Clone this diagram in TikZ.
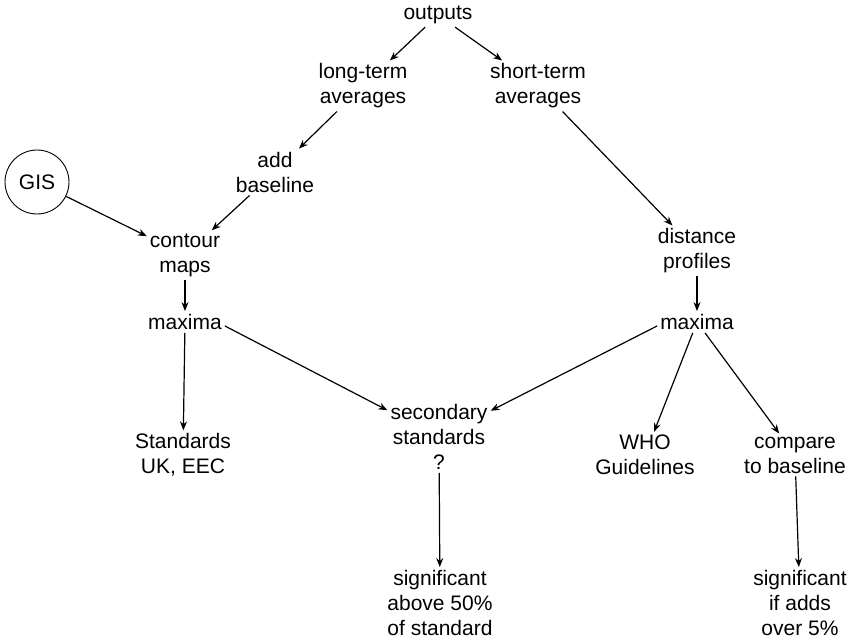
\documentclass[tikz,border=0pt]{standalone}
\usepackage{fontspec}
\setmainfont{Liberation Sans}
\usetikzlibrary{arrows.meta}
\begin{document}
\begin{tikzpicture}[x=1pt,y=-1pt,
  lbl/.style={align=center,inner sep=3pt,font=\fontsize{21}{25}\selectfont},
  flow/.style={-{Stealth[length=9pt,width=7pt]},line width=1.2pt},
  ring/.style={circle,draw,line width=0.9pt,minimum size=64pt,inner sep=0pt,font=\fontsize{21}{25}\selectfont}]
\useasboundingbox (0,0) rectangle (852,642);

\node[lbl] (out) at (438,15) {outputs};
\node[lbl] (lta) at (363,86) {long-term\\averages};
\node[lbl] (sta) at (538,86) {short-term\\averages};
\node[lbl] (addb) at (275,172) {add\\baseline};
\node[ring] (gis) at (37,182) {GIS};
\node[lbl] (cont) at (185,255) {contour\\maps};
\node[lbl] (dist) at (697,251) {distance\\profiles};
\node[lbl] (maxl) at (185,322) {maxima};
\node[lbl] (maxr) at (697,322) {maxima};
\node[lbl] (sec) at (439,437) {secondary\\standards\\?};
\node[lbl] (std) at (183,455) {Standards\\UK, EEC};
\node[lbl] (who) at (645,455) {WHO\\Guidelines};
\node[lbl] (cmp) at (795,455) {compare\\to baseline};
\node[lbl] (sig1) at (440,603) {significant\\above 50\%\\of standard};
\node[lbl] (sig2) at (800,603) {significant\\if adds\\over 5\%};

\draw[flow] (out) -- (lta);
\draw[flow] (out) -- (sta);
\draw[flow] (lta) -- (addb);
\draw[flow] (sta) -- (dist);
\draw[flow] (addb) -- (cont);
\draw[flow] (gis) -- (cont);
\draw[flow] (cont) -- (maxl);
\draw[flow] (maxl) -- (std);
\draw[flow] ([yshift=-4pt]maxl.east) -- (sec);
\draw[flow] ([yshift=-4pt]maxr.west) -- (sec);
\draw[flow] (dist) -- (maxr);
\draw[flow] (maxr) -- (who);
\draw[flow] (maxr) -- (cmp);
\draw[flow] (sec) -- (sig1);
\draw[flow] (cmp) -- (sig2);
\end{tikzpicture}
\end{document}
